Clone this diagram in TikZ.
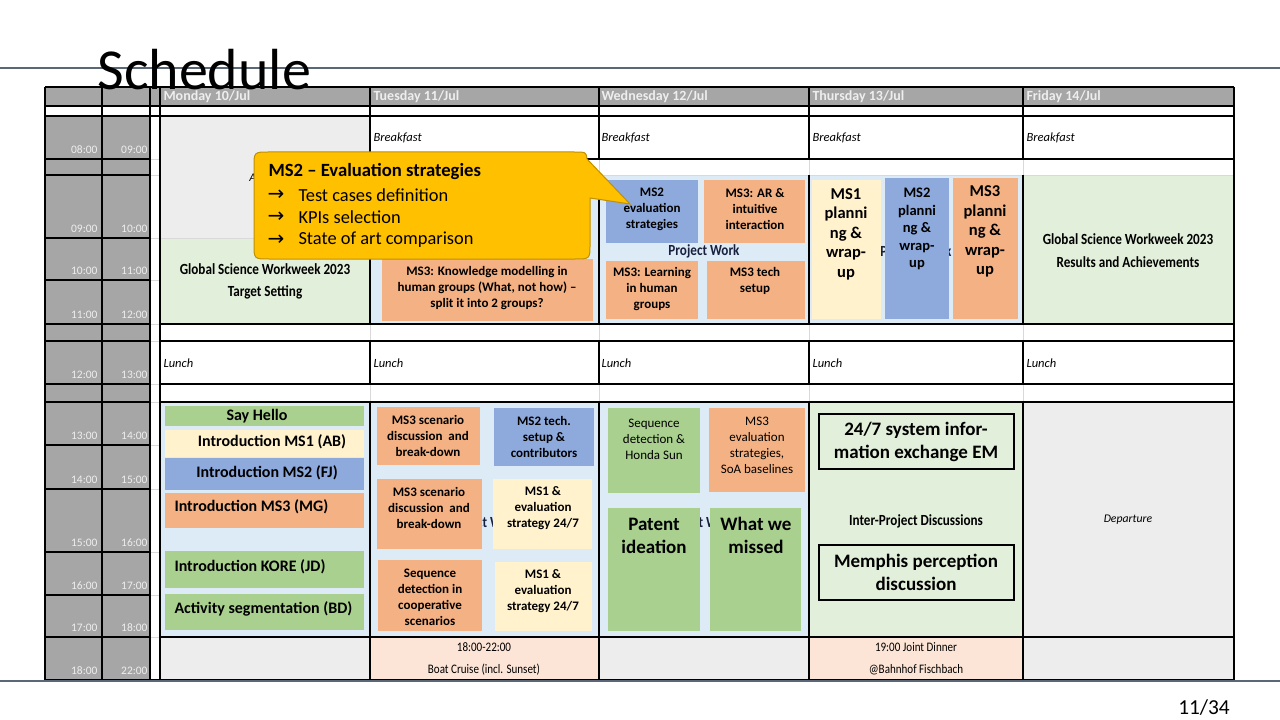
\documentclass[tikz,border=0pt]{standalone}
\usepackage{fontspec}
\setmainfont{Carlito}
\newfontfamily\condfont{Carlito}[FakeStretch=0.85]
\newfontfamily\arrowfont{DejaVu Sans}

\definecolor{slideline}{RGB}{89,103,118}
\definecolor{timegray}{RGB}{166,166,166}
\definecolor{timetext}{RGB}{238,238,238}
\definecolor{lightgray}{RGB}{237,237,237}
\definecolor{lightgreen}{RGB}{226,239,218}
\definecolor{lightblue}{RGB}{221,235,247}
\definecolor{msgreen}{RGB}{169,208,142}
\definecolor{msyellow}{RGB}{255,242,204}
\definecolor{msblue}{RGB}{142,169,219}
\definecolor{msorange}{RGB}{244,177,131}
\definecolor{peach}{RGB}{252,228,214}
\definecolor{calloutfill}{RGB}{255,192,0}
\definecolor{calloutline}{RGB}{191,144,0}
\definecolor{gridgray}{RGB}{217,217,217}
\definecolor{projnavy}{RGB}{24,32,62}

\tikzset{every picture/.style={line width=0.75pt}}
\tikzset{
  hardline/.style={draw=black,line width=1.2pt},
  softline/.style={draw=gridgray,line width=0.6pt},
  daytext/.style={inner sep=0pt,anchor=west,text=timetext,font=\bfseries\fontsize{10.5pt}{12pt}\selectfont},
  hourtext/.style={inner sep=0pt,anchor=east,text=timetext,font=\fontsize{8.6pt}{10pt}\selectfont},
  mealtext/.style={inner sep=0pt,anchor=west,font=\itshape\fontsize{9.4pt}{11pt}\selectfont},
  notetext/.style={inner sep=0pt,font=\itshape\fontsize{8.8pt}{10pt}\selectfont},
  boxtext/.style={inner sep=0pt,align=center,font=\bfseries\fontsize{9.75pt}{12pt}\selectfont},
  plaintext/.style={inner sep=0pt,align=center,font=\fontsize{9.75pt}{12pt}\selectfont},
  introtext/.style={inner sep=0pt,font=\bfseries\fontsize{12pt}{14pt}\selectfont},
  bigtext/.style={inner sep=0pt,align=center,font=\bfseries\fontsize{14.25pt}{17.25pt}\selectfont},
  plantext/.style={inner sep=0pt,align=center,font=\bfseries\fontsize{12.4pt}{14.6pt}\selectfont},
  bannertext/.style={inner sep=0pt,align=center,font=\condfont\bfseries\fontsize{11.6pt}{17pt}\selectfont},
  projtext/.style={inner sep=0pt,text=projnavy,font=\condfont\bfseries\fontsize{11.6pt}{14pt}\selectfont},
  eventext/.style={inner sep=0pt,align=center,font=\condfont\fontsize{9.75pt}{16.5pt}\selectfont},
  callouttext/.style={inner sep=0pt,anchor=west,font=\fontsize{13.8pt}{16pt}\selectfont},
  arrowtext/.style={inner sep=0pt,anchor=west,font=\arrowfont\fontsize{15pt}{16pt}\selectfont},
}

\begin{document}
\begin{tikzpicture}[x=0.75pt,y=0.75pt,yscale=-1,xscale=1]
\useasboundingbox (0,0) rectangle (1280,720);
\fill [white] (0,0) rectangle (1280,720);

%Slide line top
\draw [slideline, line width=2.2pt] (0,68) -- (1280,68);

%Time columns and header
\fill [timegray] (45,87) rectangle (150,680);
\fill [white] (45,106) rectangle (150,116);
\fill [timegray] (150,87) rectangle (1234,106);

%Monday cells
\fill [lightgray] (160,116) rectangle (370,238);
\fill [lightgreen] (160,238) rectangle (370,324);
\fill [lightblue] (160,402) rectangle (370,637);
\fill [lightgray] (160,637) rectangle (370,680);
%Tuesday cells
\fill [lightblue] (370,175) rectangle (599,324);
\fill [lightblue] (370,402) rectangle (599,637);
\fill [peach] (370,637) rectangle (599,680);
%Wednesday cells
\fill [lightblue] (599,175) rectangle (809,324);
\fill [lightblue] (599,402) rectangle (809,637);
\fill [lightgray] (599,637) rectangle (809,680);
%Thursday cells
\fill [lightblue] (809,175) rectangle (1023,324);
\fill [lightgreen] (809,402) rectangle (1023,637);
\fill [peach] (809,637) rectangle (1023,680);
%Friday cells
\fill [lightgreen] (1023,175) rectangle (1234,324);
\fill [lightgray] (1023,402) rectangle (1234,637);
\fill [lightgray] (1023,637) rectangle (1234,680);

%Grid lines
\foreach \yy in {87,106,116,159,175,238,280,324,341,384,402,445,489,552,595,637,680} {
  \draw [hardline] (45,\yy) -- (150,\yy);
  \draw [softline] (150,\yy) -- (160,\yy);
}
\foreach \yy in {87,106,116,680} \draw [hardline] (150,\yy) -- (160,\yy);
\draw [softline] (370,175) -- (1234,175);
\draw [softline] (160,238) -- (370,238);
\foreach \xx in {370,599,809,1023} \draw [softline] (\xx,87) -- (\xx,680);
\foreach \yy in {87,106,116,324,341,384,402,637,680} \draw [hardline] (160,\yy) -- (1234,\yy);
\draw [hardline] (370,159) -- (1234,159);
\foreach \xx in {45,102,150,160,1234} \draw [hardline] (\xx,87) -- (\xx,680);
\foreach \xx in {370,599,809,1023} {
  \draw [hardline] (\xx,87) -- (\xx,159);
  \draw [hardline] (\xx,175) -- (\xx,324);
  \draw [hardline] (\xx,341) -- (\xx,384);
  \draw [hardline] (\xx,402) -- (\xx,680);
}

% Header Text
\node [daytext] (daymon) at (163,97) {Monday 10/Jul};
\node [daytext] (daytue) at (373,97) {Tuesday 11/Jul};
\node [daytext] (daywed) at (601,97) {Wednesday 12/Jul};
\node [daytext] (daythu) at (812,97) {Thursday 13/Jul};
\node [daytext] (dayfri) at (1026,97) {Friday 14/Jul};

% Hour Text
\foreach \yb/\ta/\tb in {159/08:00/09:00,238/09:00/10:00,280/10:00/11:00,324/11:00/12:00,384/12:00/13:00,445/13:00/14:00,489/14:00/15:00,552/15:00/16:00,595/16:00/17:00,637/17:00/18:00,680/18:00/22:00} {
  \node [hourtext] (ha\yb) at (98,\yb-9) {\ta};
  \node [hourtext] (hb\yb) at (148,\yb-9) {\tb};
}

% Meal Text
\foreach \xx/\nm in {373/tue,601/wed,812/thu,1026/fri} \node [mealtext] (bf\nm) at (\xx,138) {Breakfast};
\foreach \xx/\nm in {163/mon,373/tue,601/wed,812/thu,1026/fri} \node [mealtext] (lu\nm) at (\xx,363) {Lunch};

% Monday
\node [notetext] (arrival) at (265,177) {Arrival};
\node [bannertext] (targetset) at (265,281.5) {Global Science Workweek 2023\\Target Setting};
\fill [msgreen] (165,406) rectangle (364,426);
\fill [msyellow] (165,430) rectangle (364,457);
\fill [msblue] (165,458) rectangle (364,490);
\fill [msorange] (165,493) rectangle (364,528);
\fill [msgreen] (165,551) rectangle (364,588);
\fill [msgreen] (165,594) rectangle (364,630);
\node [introtext] (sayhello) at (257,416) {Say Hello};
\node [introtext] (introa) at (272,442) {Introduction MS1 (AB)};
\node [introtext] (introb) at (267,473) {Introduction MS2 (FJ)};
\node [introtext, anchor=west] (introc) at (174,507) {Introduction MS3 (MG)};
\node [introtext, anchor=west] (introk) at (174,567) {Introduction KORE (JD)};
\node [introtext, anchor=west] (actseg) at (174,609) {Activity segmentation (BD)};

% Tuesday
\fill [msorange] (382,259) rectangle (593,321);
\node [boxtext] (knowmod) at (487,288) {MS3: Knowledge modelling in\\human groups (What, not how) –\\split it into 2 groups?};
\node [projtext] (projtue) at (484,523) {Project Work};
\fill [msorange] (377,407) rectangle (480,465);
\fill [msblue] (494,408) rectangle (594,466);
\fill [msorange] (377,479) rectangle (482,549);
\fill [msyellow] (493,479) rectangle (592,549);
\fill [msorange] (378,560) rectangle (482,631);
\fill [msyellow] (495,562) rectangle (592,631);
\node [boxtext] (scena) at (428,436) {MS3 scenario\\discussion~ and\\break-down};
\node [boxtext] (techsetup) at (544,437) {MS2 tech.\\setup \&\\contributors};
\node [boxtext] (scenb) at (429,508) {MS3 scenario\\discussion~ and\\break-down};
\node [boxtext] (evala) at (543,508) {MS1 \&\\evaluation\\strategy 24/7};
\node [boxtext] (seqcoop) at (430,597) {Sequence\\detection in\\cooperative\\scenarios};
\node [boxtext] (evalb) at (543,591) {MS1 \&\\evaluation\\strategy 24/7};
\node [eventext] (cruise) at (484,659) {18:00-22:00\\Boat Cruise (incl. Sunset)};

% Wednesday
\node [projtext] (projwed) at (704,251) {Project Work};
\fill [msblue] (606,180) rectangle (698,243);
\fill [msorange] (704,180) rectangle (805,243);
\fill [msorange] (606,261) rectangle (698,319);
\fill [msorange] (707,261) rectangle (805,319);
\node [boxtext] (evalstrat) at (652,209) {MS2\\evaluation\\strategies};
\node [boxtext] (arint) at (755,209) {MS3: AR \&\\intuitive\\interaction};
\node [boxtext] (learngrp) at (652,289) {MS3: Learning\\in human\\groups};
\node [boxtext] (msthree) at (755,281) {MS3 tech\\setup};
\node [projtext] (projwedb) at (700,523) {Project Work};
\fill [msgreen] (608,408) rectangle (700,493);
\fill [msorange] (709,408) rectangle (805,492);
\fill [msgreen] (608,508) rectangle (700,631);
\fill [msgreen] (710,508) rectangle (801,631);
\node [plaintext] (seqhonda) at (654,439) {Sequence\\detection \&\\Honda Sun};
\node [plaintext] (soabase) at (757,445) {MS3\\evaluation\\strategies,\\SoA baselines};
\node [bigtext] (patent) at (654,535.5) {Patent\\ideation};
\node [bigtext] (missed) at (756,535.5) {What we\\missed};

% Thursday
\node [projtext] (projthu) at (916,252) {Project Work};
\fill [msyellow] (812,180) rectangle (881,319);
\fill [msblue] (885,178) rectangle (949,319);
\fill [msorange] (953,178) rectangle (1018,319);
\node [plantext] (plana) at (846,234) {MS1\\planni\\ng \&\\wrap-\\up};
\node [plantext, font=\bfseries\fontsize{10.9pt}{13.1pt}\selectfont] (planb) at (917,229) {MS2\\planni\\ng \&\\wrap-\\up};
\node [plantext] (planc) at (985,231.5) {MS3\\planni\\ng \&\\wrap-\\up};
\draw [fill=lightgreen, draw=black, line width=0.9pt] (819,414) rectangle (1014,469);
\draw [fill=lightgreen, draw=black, line width=0.9pt] (819,545) rectangle (1014,600);
\node [bigtext] (infoexch) at (916,441.5) {24/7 system infor-\\mation exchange EM};
\node [bannertext] (interproj) at (916,521) {Inter-Project Discussions};
\node [bigtext] (memphis) at (916,572.5) {Memphis perception\\discussion};
\node [eventext] (dinner) at (916,659) {19:00 Joint Dinner\\@Bahnhof Fischbach};

% Friday
\node [bannertext] (results) at (1128,250.5) {Global Science Workweek 2023\\Results and Achievements};
\node [notetext] (departure) at (1128,520) {Departure};

%Shape: Callout
\draw [fill=calloutfill, draw=calloutline, line width=0.75pt] (269,152) -- (574,152) .. controls (586,152) .. (587,159) -- (630,204) -- (590,198) -- (590,244) .. controls (590,259) .. (575,259) -- (269,259) .. controls (254,259) .. (254,244) -- (254,167) .. controls (254,152) .. (269,152) -- cycle ;
\node [callouttext, font=\bfseries\fontsize{14pt}{16pt}\selectfont] (callhead) at (268,172) {MS2 – Evaluation strategies};
\foreach \yy/\tx [count=\i] in {195/Test cases definition,217/KPIs selection,240/State of art comparison} {
  \node [arrowtext] (carr\i) at (267,\yy) {→};
  \node [callouttext] (cline\i) at (298,\yy) {\tx};
}

% Title and footer
\node [anchor=base west, inner sep=0pt, font=\fontsize{43.5pt}{50pt}\selectfont] (title) at (97,90) {Schedule};
\draw [slideline, line width=2.2pt] (0,681) -- (1280,681);
\node [inner sep=0pt, font=\fontsize{16pt}{19pt}\selectfont] (pagenum) at (1204,708) {11/34};

\end{tikzpicture}
\end{document}
